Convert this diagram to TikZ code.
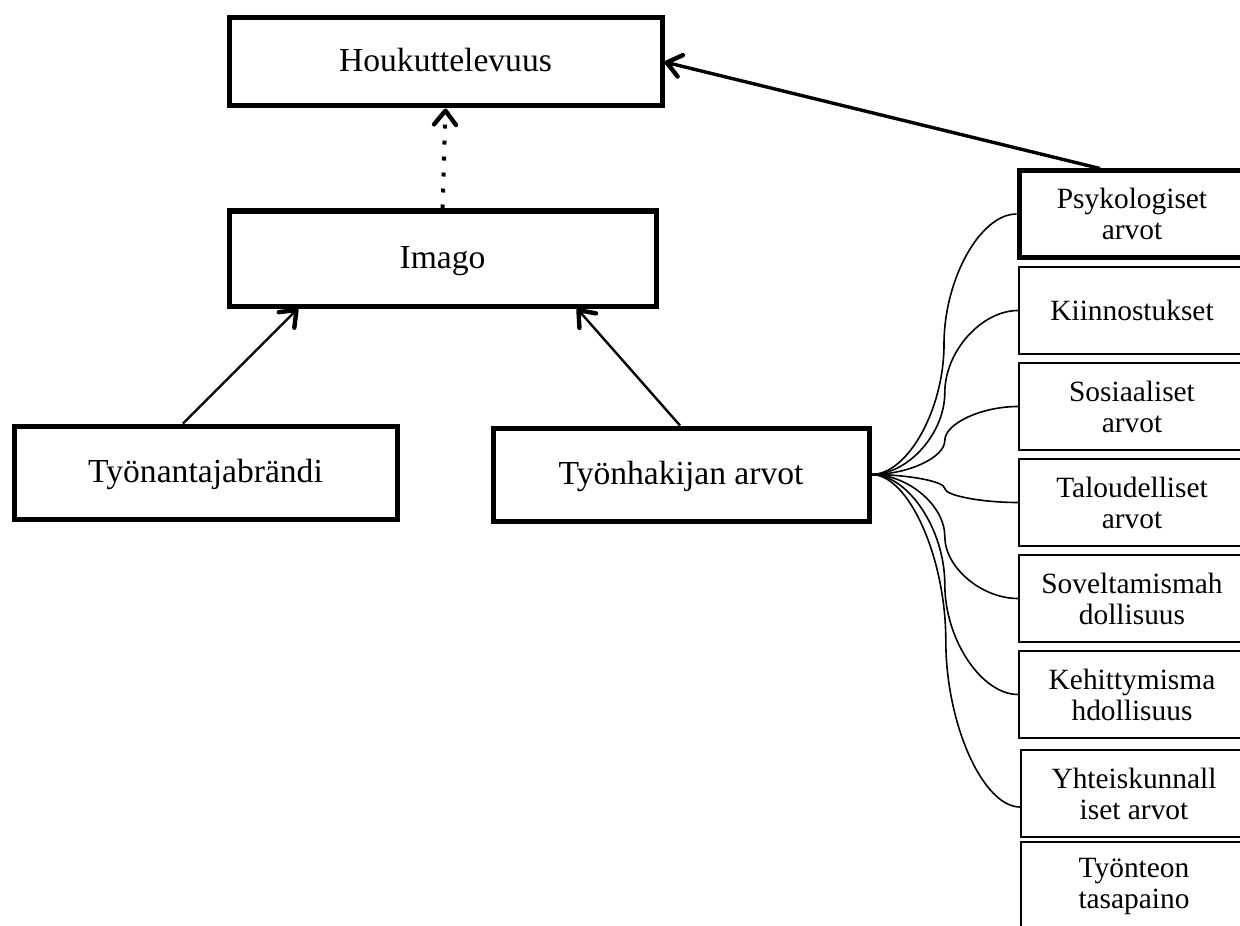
\documentclass[tikz,border=0pt]{standalone}
\usepackage{fontspec}
\setmainfont{Liberation Serif}
\usetikzlibrary{arrows.meta,calc}
\newcommand{\wcurve}[2]{\draw[link] let \p1=(#1), \p2=(#2) in (\p1) .. controls ({0.75*\x1+0.25*\x2},\y1) and ({0.5*\x1+0.5*\x2},{0.75*\y1+0.25*\y2}) .. ({0.5*\x1+0.5*\x2},{0.5*\y1+0.5*\y2}) .. controls ({0.5*\x1+0.5*\x2},{0.25*\y1+0.75*\y2}) and ({0.25*\x1+0.75*\x2},\y2) .. (\p2);}
\begin{document}
\begin{tikzpicture}[x=0.5pt,y=-0.5pt,
  bigbox/.style={draw, line width=2.5pt, rectangle, inner sep=0pt, font=\fontsize{16.8}{19}\selectfont, text height=13pt, text depth=3.4pt},
  smallbox/.style={draw, line width=0.9pt, rectangle, inner sep=0pt, font=\fontsize{14.7}{15.5}\selectfont, align=center, minimum width=113pt, minimum height=43.5pt},
  link/.style={line width=0.8pt},
  arr/.style={-{Straight Barb[length=7pt,width=11pt,line width=2.2pt,round]}, line width=1.2pt}
]
\useasboundingbox (0,0) rectangle (1240,925);
\clip (0,0) rectangle (1240,925);

\node[bigbox, minimum width=216.5pt, minimum height=44pt] (houk) at (445.5,62) {Houkuttelevuus};
\node[bigbox, minimum width=213.5pt, minimum height=47.5pt] (imago) at (442.5,258.5) {Imago};
\node[bigbox, minimum width=191.5pt, minimum height=46.5pt] (brand) at (205.5,472.5) {Työnantajabrändi};
\node[bigbox, minimum width=188pt, minimum height=46.5pt] (hak) at (681,474.5) {Työnhakijan arvot};

\node[smallbox, line width=2.5pt, minimum height=43pt] (psyk) at (1132,214) {Psykologiset\\arvot};
\node[smallbox] (kiin) at (1132,310.5) {Kiinnostukset};
\node[smallbox] (sosi) at (1132,406.5) {Sosiaaliset\\arvot};
\node[smallbox] (talo) at (1132,502.5) {Taloudelliset\\arvot};
\node[smallbox] (sove) at (1132,598.5) {Soveltamismah\\dollisuus};
\node[smallbox] (kehi) at (1132,694.5) {Kehittymisma\\hdollisuus};
\node[smallbox] (yhte) at (1134,793.5) {Yhteiskunnall\\iset arvot};
\node[smallbox, minimum height=44pt] (tyot) at (1134,886) {Työnteon\\tasapaino};

\draw[arr, line width=2pt, dash pattern=on 2pt off 6pt] (imago.north) -- (houk.south);
\draw[arr, line width=1.7pt] ([xshift=-16pt]psyk.north) -- (houk.east);
\draw[arr] ([xshift=-11.25pt]brand.north) -- ([xshift=-72.25pt]imago.south);
\draw[arr] ([xshift=-0.5pt]hak.north) -- ([xshift=67.25pt]imago.south);

\wcurve{hak.east}{psyk.west}
\wcurve{hak.east}{kiin.west}
\wcurve{hak.east}{sosi.west}
\wcurve{hak.east}{talo.west}
\wcurve{hak.east}{sove.west}
\wcurve{hak.east}{kehi.west}
\wcurve{hak.east}{[yshift=-6.75pt]yhte.west}
\end{tikzpicture}
\end{document}
